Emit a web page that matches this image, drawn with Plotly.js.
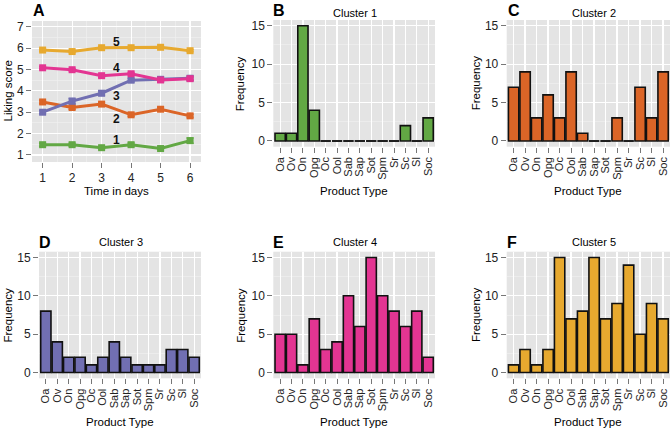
<!DOCTYPE html>
<html>
<head>
<meta charset="utf-8">
<script src="https://cdn.plot.ly/plotly-3.0.1.min.js"></script>
<style>
  html, body { margin: 0; padding: 0; background: #fff; }
  #chart { width: 672px; height: 431px; }
</style>
</head>
<body>
<div id="chart"></div>
<script>
// panel A: mean liking score per cluster over the six days
var days = [1, 2, 3, 4, 5, 6];
var liking1 = [1.48, 1.48, 1.34, 1.48, 1.30, 1.67];
var liking2 = [3.48, 3.22, 3.38, 2.88, 3.14, 2.83];
var liking3 = [3.00, 3.52, 3.89, 4.50, 4.54, 4.59];
var liking4 = [5.08, 4.99, 4.71, 4.80, 4.51, 4.57];
var liking5 = [5.91, 5.84, 6.02, 6.02, 6.04, 5.88];
// standard errors
var err1 = [0.07, 0.07, 0.06, 0.08, 0.06, 0.12];
var err2 = [0.07, 0.08, 0.09, 0.07, 0.09, 0.07];
var err3 = [0.07, 0.12, 0.11, 0.08, 0.12, 0.10];
var err4 = [0.05, 0.06, 0.07, 0.06, 0.07, 0.07];
var err5 = [0.05, 0.05, 0.05, 0.05, 0.05, 0.05];

// panels B-F: frequency of product types per cluster
var productTypes = ["Oa", "Ov", "On", "Opg", "Oc", "Ool", "Sab", "Sap", "Sot", "Spm", "Sr", "Sc", "Sl", "Soc"];
var freq1 = [1, 1, 15, 4, 0, 0, 0, 0, 0, 0, 0, 2, 0, 3];
var freq2 = [7, 9, 3, 6, 3, 9, 1, 0, 0, 3, 0, 7, 3, 9];
var freq3 = [8, 4, 2, 2, 1, 2, 4, 2, 1, 1, 1, 3, 3, 2];
var freq4 = [5, 5, 1, 7, 3, 4, 10, 6, 15, 10, 8, 6, 8, 2];
var freq5 = [1, 3, 1, 3, 15, 7, 8, 15, 7, 9, 14, 5, 9, 7];

var clusterNames = ["Cluster 1", "Cluster 2", "Cluster 3", "Cluster 4", "Cluster 5"];
var colors = ["#62a844", "#db6527", "#716fb2", "#e33592", "#e7a92f"];

var W = 672, H = 431;
var FONT = "Liberation Sans, Arial, sans-serif";

// pixel box -> paper domain
function xdom(left, right) { return [left / W, right / W]; }
function ydom(top, bottom) { return [1 - bottom / H, 1 - top / H]; }

var liking = [liking1, liking2, liking3, liking4, liking5];
var errs = [err1, err2, err3, err4, err5];
var freqs = [freq1, freq2, freq3, freq4, freq5];

var data = [];

// line chart, clusters 1..5 (later ones on top)
for (var c = 0; c < 5; c++) {
  data.push({
    x: days,
    y: liking[c],
    type: "scatter",
    mode: "lines+markers",
    line: { color: colors[c], width: 3 },
    marker: { color: colors[c], symbol: "square", size: 7 },
    error_y: { type: "data", array: errs[c], visible: true, color: colors[c], thickness: 1.6, width: 3.5 },
    xaxis: "x", yaxis: "y",
    hoverinfo: "skip"
  });
}

// bar charts
var idx = productTypes.map(function(p, i) { return i; });
for (var c = 0; c < 5; c++) {
  var ax = String(c + 2);
  data.push({
    x: idx,
    y: freqs[c],
    type: "bar",
    width: 0.9,
    marker: { color: colors[c], line: { color: "#111", width: 1.6 } },
    xaxis: "x" + ax, yaxis: "y" + ax,
    hoverinfo: "skip"
  });
  // zero counts are drawn as a flat outline, like ggplot does
  var zx = [], zy = [];
  freqs[c].forEach(function(v, i) {
    if (v === 0) { zx.push(i - 0.45, i + 0.45, null); zy.push(0, 0, null); }
  });
  if (zx.length) {
    data.push({
      x: zx, y: zy, type: "scatter", mode: "lines",
      line: { color: "#111", width: 1.6 },
      xaxis: "x" + ax, yaxis: "y" + ax,
      hoverinfo: "skip"
    });
  }
}

var tickFont = { family: FONT, size: 12, color: "#222" };
var catFont = { family: FONT, size: 11, color: "#222" };

function baseAxis(extra) {
  var a = {
    showgrid: true,
    gridcolor: "#ffffff",
    gridwidth: 1.2,
    zeroline: false,
    showline: false,
    ticks: "outside",
    ticklen: 5,
    tickwidth: 1,
    tickcolor: "#777",
    tickfont: tickFont,
    fixedrange: true
  };
  for (var k in extra) a[k] = extra[k];
  return a;
}

var layout = {
  width: W,
  height: H,
  margin: { l: 0, r: 0, t: 0, b: 0 },
  paper_bgcolor: "#ffffff",
  plot_bgcolor: "#e4e4e4",
  showlegend: false,
  font: { family: FONT, size: 11, color: "#000" },
  xaxis: baseAxis({
    domain: xdom(32, 201), anchor: "y",
    range: [0.64, 6.37], tickvals: days,
    minor: { dtick: 0.5, tick0: 0, showgrid: true, gridcolor: "#f2f2f2", gridwidth: 0.6 }
  }),
  yaxis: baseAxis({
    domain: ydom(21, 162), anchor: "x",
    range: [0.67, 7.27], tickvals: [1, 2, 3, 4, 5, 6, 7],
    minor: { dtick: 0.5, tick0: 0, showgrid: true, gridcolor: "#f2f2f2", gridwidth: 0.6 }
  }),
  annotations: []
};

// panel boxes in pixels: [left, right, top, bottom]
var boxes = [
  [273.3, 435, 20, 146.7],
  [506.7, 670, 20, 146.7],
  [39, 201, 251.7, 378.3],
  [273.3, 435, 251.7, 378.3],
  [506.7, 670, 251.7, 378.3]
];

for (var c = 0; c < 5; c++) {
  var n = c + 2, b = boxes[c];
  layout["xaxis" + n] = baseAxis({
    domain: xdom(b[0], b[1]), anchor: "y" + n,
    range: [-0.6, productTypes.length - 0.4],
    tickvals: idx, ticktext: productTypes, tickangle: -90,
    tickfont: catFont
  });
  layout["yaxis" + n] = baseAxis({
    domain: ydom(b[2], b[3]), anchor: "x" + n,
    range: [-0.75, 15.75], tickvals: [0, 5, 10, 15],
    minor: { dtick: 2.5, tick0: 0, showgrid: true, gridcolor: "#f2f2f2", gridwidth: 0.6 }
  });
}

function note(text, px, py, opts) {
  var a = {
    text: text, xref: "paper", yref: "paper",
    x: px / W, y: 1 - py / H, xanchor: "center", yanchor: "middle",
    showarrow: false, font: { family: FONT, size: 11.5, color: "#000" }
  };
  for (var k in opts) a[k] = opts[k];
  layout.annotations.push(a);
}

var letterFont = { family: FONT, size: 16, color: "#000" };
// panel letters
note("<b>A</b>", 39, 11, { font: letterFont });
note("<b>B</b>", 279, 10, { font: letterFont });
note("<b>C</b>", 514, 10, { font: letterFont });
note("<b>D</b>", 45, 242, { font: letterFont });
note("<b>E</b>", 278, 242, { font: letterFont });
note("<b>F</b>", 512, 242, { font: letterFont });

// cluster titles
var titlePos = [[355, 12.5], [594, 12.5], [120.5, 241.7], [355, 241.7], [594, 241.7]];
for (var c = 0; c < 5; c++) {
  note(clusterNames[c], titlePos[c][0], titlePos[c][1], { font: { family: FONT, size: 11, color: "#000" } });
}

// axis titles
note("Time in days", 116.7, 191);
note("Liking score", 7.5, 91, { textangle: -90 });
var freqX = [240.8, 476, 7.5, 240.8, 476];
for (var c = 0; c < 5; c++) {
  var b = boxes[c];
  note("Frequency", freqX[c], (b[2] + b[3]) / 2, { textangle: -90 });
  note("Product Type", (b[0] + b[1]) / 2, b[2] < 100 ? 191 : 421.5);
}

// cluster number labels on the line chart
var lineLabels = [["1", 1.71], ["2", 2.69], ["3", 3.78], ["4", 5.08], ["5", 6.30]];
lineLabels.forEach(function(l) {
  layout.annotations.push({
    text: "<b>" + l[0] + "</b>", xref: "x", yref: "y", x: 3.5, y: l[1],
    showarrow: false, font: { family: FONT, size: 12, color: "#111" }
  });
});

Plotly.newPlot("chart", data, layout, { staticPlot: true, displayModeBar: false });
</script>
</body>
</html>
